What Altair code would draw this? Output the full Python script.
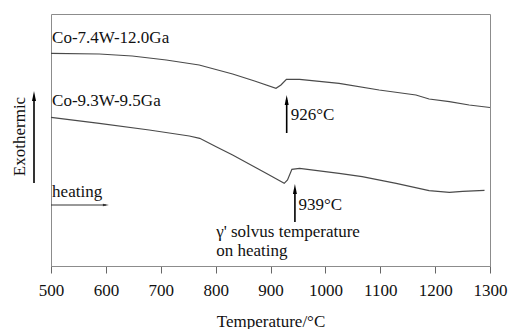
import altair as alt
import pandas as pd

# Curve 1: Co-7.4W-12.0Ga
temp_a = [500, 588, 648, 710, 770, 831, 871, 910, 919, 929, 953, 1025, 1098, 1165, 1189, 1226, 1262, 1300]
sig_a = [212.7, 212, 210, 206, 201, 192, 185, 177.7, 181, 186.7, 186.7, 182.7, 176, 171, 167, 164.3, 161, 158.5]

# Curve 2: Co-9.3W-9.5Ga
temp_b = [500, 588, 679, 752, 771, 801, 831, 892, 925, 931, 939, 953, 1025, 1067, 1129, 1189, 1226, 1250, 1290]
sig_b = [148.7, 142.7, 136, 130, 127.7, 119.3, 111, 92.7, 82.7, 86, 96.7, 97.7, 92.7, 89.3, 82.7, 75.3, 73.7, 74.7, 75.7]

x_ticks = [500, 600, 700, 800, 900, 1000, 1100, 1200, 1300]

# annotation texts (in data coordinates)
ann_text = ["Co-7.4W-12.0Ga", "Co-9.3W-9.5Ga", "926°C", "939°C",
            "γ' solvus temperature", "on heating", "heating"]
ann_T = [502, 502, 937, 951, 801, 801, 502]
ann_v = [228.5, 165, 151, 61, 34.5, 15.5, 74.5]

# vertical arrows (solvus markers)
arr_T = [929.5, 944.5]
arr_v1 = [133, 44]
arr_v2 = [166, 77]

FONT = "Times New Roman"

df = pd.DataFrame({
    "T": temp_a + temp_b,
    "v": sig_a + sig_b,
    "series": ["Co-7.4W-12.0Ga"] * len(temp_a) + ["Co-9.3W-9.5Ga"] * len(temp_b),
})

xs = alt.Scale(domain=[500, 1300], nice=False, zero=False)
ys = alt.Scale(domain=[0, 252], nice=False, zero=False)

lines = alt.Chart(df).mark_line(color="#4a4a4a", strokeWidth=1.2).encode(
    x=alt.X("T:Q", scale=xs, axis=alt.Axis(
        values=x_ticks, format="d", title="Temperature/°C", grid=False,
        tickSize=7, tickColor="#666", domainColor="#8c8c8c",
        labelFont=FONT, labelFontSize=17, labelColor="#111", labelPadding=9,
        labelFlush=False,
        titleFont=FONT, titleFontSize=17, titleFontWeight="normal",
        titleColor="#111", titlePadding=15)),
    y=alt.Y("v:Q", scale=ys, axis=None),
    detail="series:N",
)

ann_df = pd.DataFrame({"T": ann_T, "v": ann_v, "label": ann_text})
texts = alt.Chart(ann_df).mark_text(
    align="left", baseline="middle", font=FONT, fontSize=17, color="#111"
).encode(x=alt.X("T:Q", scale=xs), y=alt.Y("v:Q", scale=ys), text="label:N")

arr_df = pd.DataFrame({"T": arr_T, "v1": arr_v1, "v2": arr_v2})
arr_rules = alt.Chart(arr_df).mark_rule(color="black", strokeWidth=1.6).encode(
    x=alt.X("T:Q", scale=xs), y=alt.Y("v1:Q", scale=ys), y2="v2:Q")
arr_heads = alt.Chart(arr_df).mark_point(
    shape="M0,-1L-0.4,1L0.4,1Z", filled=True, color="black", opacity=1, size=100
).encode(x=alt.X("T:Q", scale=xs), y=alt.Y("v2:Q", scale=ys))

# heating arrow
heat_df = pd.DataFrame({"T1": [500], "T2": [600], "v": [61]})
heat_rule = alt.Chart(heat_df).mark_rule(color="#333", strokeWidth=1).encode(
    x=alt.X("T1:Q", scale=xs), x2="T2:Q", y=alt.Y("v:Q", scale=ys))
heat_head = alt.Chart(heat_df).mark_point(
    shape="M1,0L-1,-0.45L-1,0.45Z", filled=True, color="#333", opacity=1, size=36
).encode(x=alt.X("T2:Q", scale=xs), y=alt.Y("v:Q", scale=ys))

# Exothermic label with arrow (outside plot, left)
exo_df = pd.DataFrame({"v1": [83], "v2": [170], "vt": [129.5], "label": ["Exothermic"]})
exo_rule = alt.Chart(exo_df).mark_rule(color="black", strokeWidth=1.6).encode(
    x=alt.value(-17), y=alt.Y("v1:Q", scale=ys), y2="v2:Q")
exo_head = alt.Chart(exo_df).mark_point(
    shape="M0,-1L-0.4,1L0.4,1Z", filled=True, color="black", opacity=1, size=100
).encode(x=alt.value(-17), y=alt.Y("v2:Q", scale=ys))
exo_text = alt.Chart(exo_df).mark_text(
    angle=270, align="center", baseline="middle", font=FONT, fontSize=17, color="#111"
).encode(x=alt.value(-31), y=alt.Y("vt:Q", scale=ys), text="label:N")

chart = alt.layer(
    lines, texts, arr_rules, arr_heads, heat_rule, heat_head, exo_rule, exo_head, exo_text
).properties(
    width=439, height=252,
    padding={"left": 51, "top": 14, "right": 18, "bottom": 63},
    autosize="none",
).configure(font=FONT).configure_view(stroke="#8c8c8c", strokeWidth=1)

chart.save("out.html", embed_options={"renderer": "svg", "actions": False})
